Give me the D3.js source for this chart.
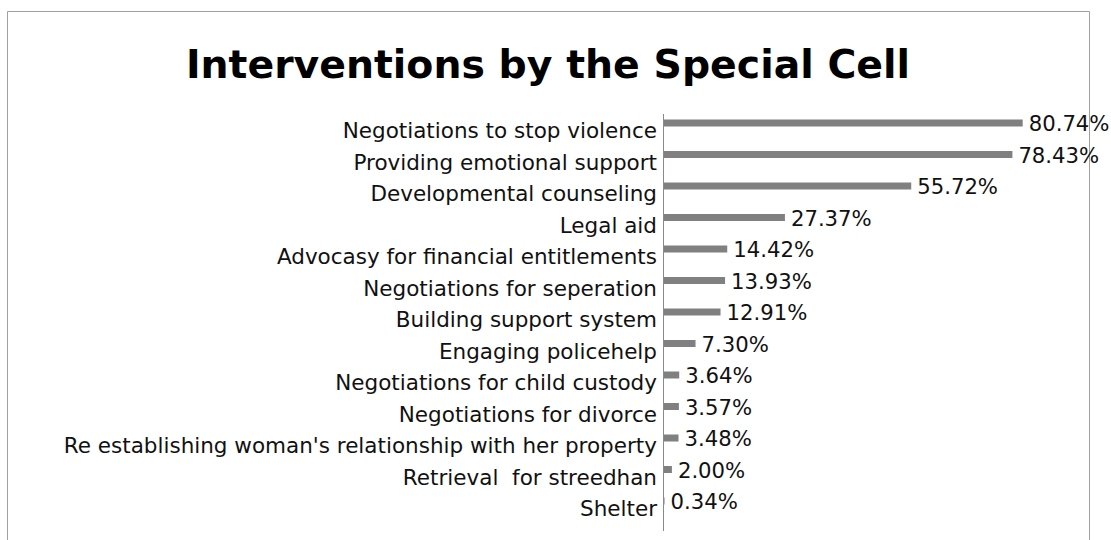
<!DOCTYPE html>
<html>
<head>
<meta charset="utf-8">
<script src="https://cdn.jsdelivr.net/npm/d3@7"></script>
<style>
  html, body { margin: 0; padding: 0; background: #fff; }
  svg { display: block; }
  text { font-family: "DejaVu Sans", sans-serif; }
</style>
</head>
<body>
<svg id="chart" width="1111" height="540"></svg>
<script>
// Interventions carried out by the Special Cell (% of cases)
const categories = [
  "Negotiations to stop violence",
  "Providing emotional support",
  "Developmental counseling",
  "Legal aid",
  "Advocasy for financial entitlements",
  "Negotiations for seperation",
  "Building support system",
  "Engaging policehelp",
  "Negotiations for child custody",
  "Negotiations for divorce",
  "Re establishing woman's relationship with her property",
  "Retrieval  for streedhan",
  "Shelter"
];
const values = [80.74, 78.43, 55.72, 27.37, 14.42, 13.93, 12.91, 7.30, 3.64, 3.57, 3.48, 2.00, 0.34];
const valueLabels = ["80.74%", "78.43%", "55.72%", "27.37%", "14.42%", "13.93%", "12.91%", "7.30%", "3.64%", "3.57%", "3.48%", "2.00%", "0.34%"];
const title = "Interventions by the Special Cell";

const svg = d3.select("#chart");

// outer frame
svg.append("path")
  .attr("d", "M7.5,560 L7.5,11.5 L1089.5,11.5 L1089.5,560")
  .attr("fill", "none")
  .attr("stroke", "#a0a0a0")
  .attr("stroke-width", 1);

svg.append("text")
  .attr("x", 548)
  .attr("y", 78)
  .attr("text-anchor", "middle")
  .attr("font-size", 39.4)
  .attr("font-weight", "bold")
  .attr("fill", "#000")
  .text(title);

const axisX = 663;
const x = d3.scaleLinear().domain([0, 100]).range([axisX, 1108.5]);
const y = d3.scaleBand().domain(categories).range([107.25, 516.75]).padding(0);
const barH = 7;

// category axis line
svg.append("line")
  .attr("x1", axisX + 0.5).attr("x2", axisX + 0.5)
  .attr("y1", 114).attr("y2", 531)
  .attr("stroke", "#8a8a8a")
  .attr("stroke-width", 1);

const rows = svg.append("g").selectAll("g")
  .data(categories.map((c, i) => ({ c, v: values[i], lab: valueLabels[i] })))
  .join("g");

const mid = d => y(d.c) + y.bandwidth() / 2;

rows.append("rect")
  .attr("x", axisX + 1)
  .attr("y", d => mid(d) - barH / 2)
  .attr("width", d => Math.max(0, x(d.v) - axisX - 1))
  .attr("height", barH)
  .attr("fill", "#808080");

rows.append("text")
  .attr("x", 657)
  .attr("y", d => mid(d) + 15)
  .attr("text-anchor", "end")
  .attr("font-size", 21.5)
  .attr("fill", "#111")
  .attr("style", "white-space: pre")
  .text(d => d.c);

rows.append("text")
  .attr("x", d => x(d.v) + 6)
  .attr("y", d => mid(d) + 8)
  .attr("font-size", 21.2)
  .attr("fill", "#111")
  .text(d => d.lab);
</script>
</body>
</html>
